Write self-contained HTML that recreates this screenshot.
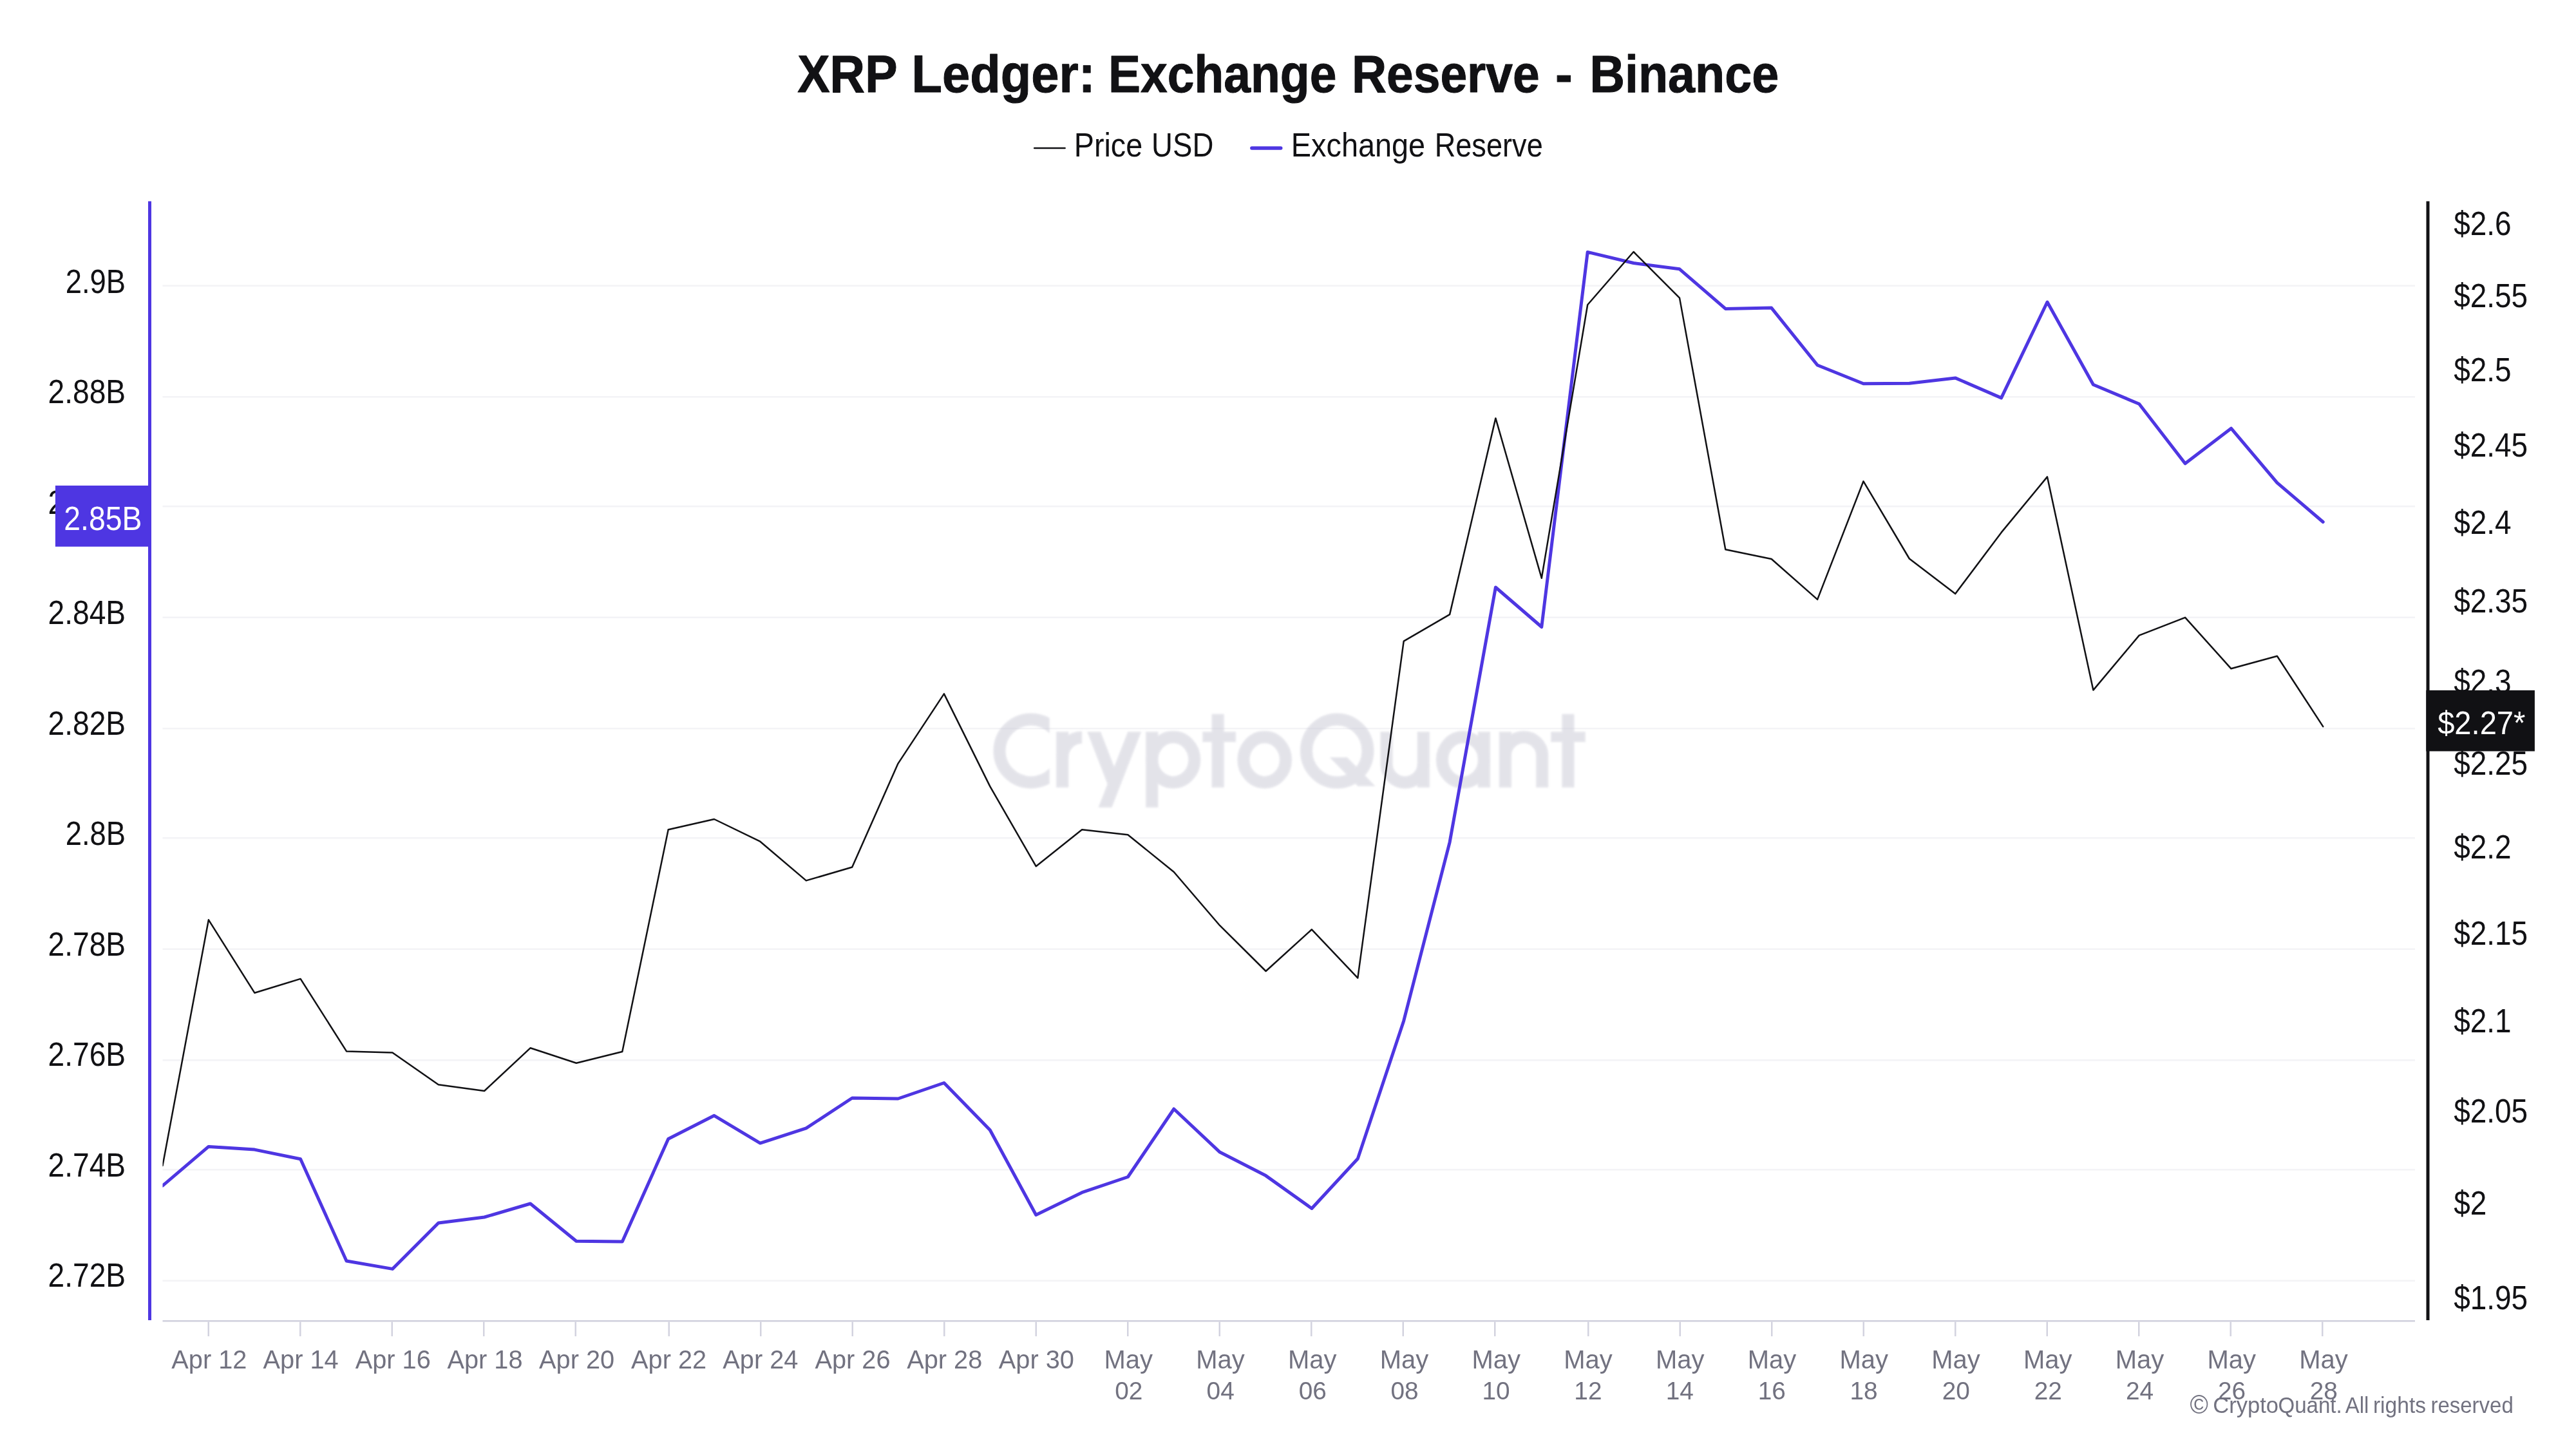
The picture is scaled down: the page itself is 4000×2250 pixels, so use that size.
<!DOCTYPE html><html><head><meta charset="utf-8"><title>XRP Ledger: Exchange Reserve - Binance</title>
<style>html,body{margin:0;padding:0;background:#fff}body{width:4000px;height:2250px;overflow:hidden}svg{display:block;font-family:"Liberation Sans",sans-serif}text{opacity:0.999}</style></head><body>
<svg width="4000" height="2250" viewBox="0 0 4000 2250">
<defs><clipPath id="plot"><rect x="252.5" y="300" width="3500" height="1760"/></clipPath><clipPath id="cclip"><rect x="1500" y="1090" width="129.7" height="150"/></clipPath><filter id="soft" x="-5%" y="-20%" width="110%" height="140%"><feGaussianBlur stdDeviation="1.5"/></filter></defs>
<rect width="4000" height="2250" fill="#ffffff"/>
<text transform="translate(1238.24,143.20) scale(0.9239,1)" font-size="81.75" font-weight="700" fill="#111114" stroke="#111114" stroke-width="1.0" stroke-linejoin="round">XRP</text>
<text transform="translate(1415.45,143.20) scale(0.9511,1)" font-size="81.75" font-weight="700" fill="#111114" stroke="#111114" stroke-width="1.0" stroke-linejoin="round">Ledger:</text>
<text transform="translate(1720.94,143.20) scale(0.9178,1)" font-size="81.75" font-weight="700" fill="#111114" stroke="#111114" stroke-width="1.0" stroke-linejoin="round">Exchange</text>
<text transform="translate(2098.94,143.20) scale(0.9167,1)" font-size="81.75" font-weight="700" fill="#111114" stroke="#111114" stroke-width="1.0" stroke-linejoin="round">Reserve</text>
<text transform="translate(2415.08,143.20) scale(0.9835,1)" font-size="81.75" font-weight="700" fill="#111114" stroke="#111114" stroke-width="1.0" stroke-linejoin="round">-</text>
<text transform="translate(2468.50,143.20) scale(0.9235,1)" font-size="81.75" font-weight="700" fill="#111114" stroke="#111114" stroke-width="1.0" stroke-linejoin="round">Binance</text>
<line x1="1606.2" y1="230" x2="1653.6" y2="230" stroke="#111114" stroke-width="2.6" stroke-linecap="round"/>
<text transform="translate(1667.74,243.10) scale(0.8950,1)" font-size="52.22" fill="#111114">Price</text>
<text transform="translate(1788.07,243.10) scale(0.8730,1)" font-size="52.22" fill="#111114">USD</text>
<line x1="1943.8" y1="230" x2="1988.8" y2="230" stroke="#4e36e2" stroke-width="5.4" stroke-linecap="round"/>
<text transform="translate(2004.84,243.10) scale(0.8972,1)" font-size="52.22" fill="#111114">Exchange</text>
<text transform="translate(2227.68,243.10) scale(0.8645,1)" font-size="52.22" fill="#111114">Reserve</text>
<rect x="252.5" y="442.50" width="3497.5" height="2.5" fill="#f3f3f6"/>
<rect x="252.5" y="615.00" width="3497.5" height="2.5" fill="#f3f3f6"/>
<rect x="252.5" y="785.00" width="3497.5" height="2.5" fill="#f3f3f6"/>
<rect x="252.5" y="957.50" width="3497.5" height="2.5" fill="#f3f3f6"/>
<rect x="252.5" y="1130.00" width="3497.5" height="2.5" fill="#f3f3f6"/>
<rect x="252.5" y="1300.00" width="3497.5" height="2.5" fill="#f3f3f6"/>
<rect x="252.5" y="1472.50" width="3497.5" height="2.5" fill="#f3f3f6"/>
<rect x="252.5" y="1645.00" width="3497.5" height="2.5" fill="#f3f3f6"/>
<rect x="252.5" y="1815.00" width="3497.5" height="2.5" fill="#f3f3f6"/>
<rect x="252.5" y="1987.50" width="3497.5" height="2.5" fill="#f3f3f6"/>
<g filter="url(#soft)" opacity="0.5"><g fill="none" stroke="#c9c9d5" stroke-width="19.0" stroke-linecap="butt"><g clip-path="url(#cclip)"><circle cx="1601" cy="1165.9" r="49"/></g><path d="M1649.7,1136.3 V1222.7"/><path d="M1649.7,1176.4 A30.4,31.4 0 0 1 1680.1,1145"/><path d="M1788.8,1136.3 V1253.7"/><ellipse cx="1821.8" cy="1179.75" rx="33" ry="35.15"/><path d="M1891.1,1108.7 V1222.7"/><ellipse cx="1963.7" cy="1179.75" rx="32.8" ry="35.15"/><ellipse cx="2076.2" cy="1165.9" rx="47.75" ry="49"/><path d="M2153,1136.3 V1186.25 A28.65,28.65 0 0 0 2210.3,1186.25"/><path d="M2210.3,1136.3 V1222.7"/><ellipse cx="2271.9" cy="1179.75" rx="32.5" ry="35.15"/><path d="M2304.4,1136.3 V1222.7"/><path d="M2337.4,1136.3 V1222.7"/><path d="M2337.4,1173.25 A28.65,28.65 0 0 1 2394.7,1173.25 V1222.7"/><path d="M2434.9,1108.7 V1222.7"/></g><g fill="#c9c9d5" stroke="none"><polygon points="1751.3,1136.3 1772.1,1136.3 1726.4,1253.7 1705.6,1253.7"/><polygon points="1688.2,1136.3 1709.0,1136.3 1740.5,1217.6 1719.7,1217.6"/><rect x="1867.4" y="1136.3" width="51.5" height="15.9"/><rect x="2408.3" y="1136.3" width="53.4" height="15.9"/><polygon points="2064.7,1176.1 2091.9,1176.1 2135.6,1220.7 2108.4,1220.7"/></g></g>
<rect x="252.5" y="2050" width="3497.5" height="2.5" fill="#d0d0dd"/>
<rect x="322.50" y="2052.5" width="2.5" height="22.5" fill="#d3d3df"/>
<text transform="translate(266.28,2125.00) scale(0.9976,1)" font-size="39.85" fill="#727280">Apr 12</text>
<rect x="465.00" y="2052.5" width="2.5" height="22.5" fill="#d3d3df"/>
<text transform="translate(408.59,2125.00) scale(0.9976,1)" font-size="39.85" fill="#727280">Apr 14</text>
<rect x="607.50" y="2052.5" width="2.5" height="22.5" fill="#d3d3df"/>
<text transform="translate(551.64,2125.00) scale(0.9976,1)" font-size="39.85" fill="#727280">Apr 16</text>
<rect x="750.00" y="2052.5" width="2.5" height="22.5" fill="#d3d3df"/>
<text transform="translate(694.39,2125.00) scale(0.9976,1)" font-size="39.85" fill="#727280">Apr 18</text>
<rect x="892.50" y="2052.5" width="2.5" height="22.5" fill="#d3d3df"/>
<text transform="translate(837.05,2125.00) scale(0.9976,1)" font-size="39.85" fill="#727280">Apr 20</text>
<rect x="1037.50" y="2052.5" width="2.5" height="22.5" fill="#d3d3df"/>
<text transform="translate(980.05,2125.00) scale(0.9976,1)" font-size="39.85" fill="#727280">Apr 22</text>
<rect x="1180.00" y="2052.5" width="2.5" height="22.5" fill="#d3d3df"/>
<text transform="translate(1122.36,2125.00) scale(0.9976,1)" font-size="39.85" fill="#727280">Apr 24</text>
<rect x="1322.50" y="2052.5" width="2.5" height="22.5" fill="#d3d3df"/>
<text transform="translate(1265.41,2125.00) scale(0.9976,1)" font-size="39.85" fill="#727280">Apr 26</text>
<rect x="1465.00" y="2052.5" width="2.5" height="22.5" fill="#d3d3df"/>
<text transform="translate(1408.17,2125.00) scale(0.9976,1)" font-size="39.85" fill="#727280">Apr 28</text>
<rect x="1607.50" y="2052.5" width="2.5" height="22.5" fill="#d3d3df"/>
<text transform="translate(1550.83,2125.00) scale(0.9976,1)" font-size="39.85" fill="#727280">Apr 30</text>
<rect x="1750.00" y="2052.5" width="2.5" height="22.5" fill="#d3d3df"/>
<text transform="translate(1714.53,2124.95) scale(0.9932,1)" font-size="40.22" fill="#727280">May</text>
<text transform="translate(1731.28,2172.70) scale(0.9882,1)" font-size="39.28" fill="#727280">02</text>
<rect x="1892.50" y="2052.5" width="2.5" height="22.5" fill="#d3d3df"/>
<text transform="translate(1857.29,2124.95) scale(0.9932,1)" font-size="40.22" fill="#727280">May</text>
<text transform="translate(1873.60,2172.70) scale(0.9882,1)" font-size="39.28" fill="#727280">04</text>
<rect x="2035.00" y="2052.5" width="2.5" height="22.5" fill="#d3d3df"/>
<text transform="translate(2000.04,2124.95) scale(0.9932,1)" font-size="40.22" fill="#727280">May</text>
<text transform="translate(2016.64,2172.70) scale(0.9882,1)" font-size="39.28" fill="#727280">06</text>
<rect x="2177.50" y="2052.5" width="2.5" height="22.5" fill="#d3d3df"/>
<text transform="translate(2142.80,2124.95) scale(0.9932,1)" font-size="40.22" fill="#727280">May</text>
<text transform="translate(2159.40,2172.70) scale(0.9882,1)" font-size="39.28" fill="#727280">08</text>
<rect x="2320.00" y="2052.5" width="2.5" height="22.5" fill="#d3d3df"/>
<text transform="translate(2285.55,2124.95) scale(0.9932,1)" font-size="40.22" fill="#727280">May</text>
<text transform="translate(2301.38,2172.70) scale(0.9882,1)" font-size="39.28" fill="#727280">10</text>
<rect x="2465.00" y="2052.5" width="2.5" height="22.5" fill="#d3d3df"/>
<text transform="translate(2428.31,2124.95) scale(0.9932,1)" font-size="40.22" fill="#727280">May</text>
<text transform="translate(2444.37,2172.70) scale(0.9882,1)" font-size="39.28" fill="#727280">12</text>
<rect x="2607.50" y="2052.5" width="2.5" height="22.5" fill="#d3d3df"/>
<text transform="translate(2571.06,2124.95) scale(0.9932,1)" font-size="40.22" fill="#727280">May</text>
<text transform="translate(2586.69,2172.70) scale(0.9882,1)" font-size="39.28" fill="#727280">14</text>
<rect x="2750.00" y="2052.5" width="2.5" height="22.5" fill="#d3d3df"/>
<text transform="translate(2713.82,2124.95) scale(0.9932,1)" font-size="40.22" fill="#727280">May</text>
<text transform="translate(2729.74,2172.70) scale(0.9882,1)" font-size="39.28" fill="#727280">16</text>
<rect x="2892.50" y="2052.5" width="2.5" height="22.5" fill="#d3d3df"/>
<text transform="translate(2856.57,2124.95) scale(0.9932,1)" font-size="40.22" fill="#727280">May</text>
<text transform="translate(2872.49,2172.70) scale(0.9882,1)" font-size="39.28" fill="#727280">18</text>
<rect x="3035.00" y="2052.5" width="2.5" height="22.5" fill="#d3d3df"/>
<text transform="translate(2999.33,2124.95) scale(0.9932,1)" font-size="40.22" fill="#727280">May</text>
<text transform="translate(3015.64,2172.70) scale(0.9882,1)" font-size="39.28" fill="#727280">20</text>
<rect x="3177.50" y="2052.5" width="2.5" height="22.5" fill="#d3d3df"/>
<text transform="translate(3142.08,2124.95) scale(0.9932,1)" font-size="40.22" fill="#727280">May</text>
<text transform="translate(3158.63,2172.70) scale(0.9882,1)" font-size="39.28" fill="#727280">22</text>
<rect x="3320.00" y="2052.5" width="2.5" height="22.5" fill="#d3d3df"/>
<text transform="translate(3284.84,2124.95) scale(0.9932,1)" font-size="40.22" fill="#727280">May</text>
<text transform="translate(3300.95,2172.70) scale(0.9882,1)" font-size="39.28" fill="#727280">24</text>
<rect x="3462.50" y="2052.5" width="2.5" height="22.5" fill="#d3d3df"/>
<text transform="translate(3427.59,2124.95) scale(0.9932,1)" font-size="40.22" fill="#727280">May</text>
<text transform="translate(3444.00,2172.70) scale(0.9882,1)" font-size="39.28" fill="#727280">26</text>
<rect x="3605.00" y="2052.5" width="2.5" height="22.5" fill="#d3d3df"/>
<text transform="translate(3570.35,2124.95) scale(0.9932,1)" font-size="40.22" fill="#727280">May</text>
<text transform="translate(3586.75,2172.70) scale(0.9882,1)" font-size="39.28" fill="#727280">28</text>
<text transform="translate(101.73,455.00) scale(0.8723,1)" font-size="52.07" fill="#111114">2.9B</text>
<text transform="translate(74.49,626.47) scale(0.8866,1)" font-size="52.07" fill="#111114">2.88B</text>
<text transform="translate(74.49,797.94) scale(0.8866,1)" font-size="52.07" fill="#111114">2.86B</text>
<text transform="translate(74.49,969.41) scale(0.8866,1)" font-size="52.07" fill="#111114">2.84B</text>
<text transform="translate(74.49,1140.88) scale(0.8866,1)" font-size="52.07" fill="#111114">2.82B</text>
<text transform="translate(101.73,1312.35) scale(0.8723,1)" font-size="52.07" fill="#111114">2.8B</text>
<text transform="translate(74.49,1483.82) scale(0.8866,1)" font-size="52.07" fill="#111114">2.78B</text>
<text transform="translate(74.49,1655.29) scale(0.8866,1)" font-size="52.07" fill="#111114">2.76B</text>
<text transform="translate(74.49,1826.76) scale(0.8866,1)" font-size="52.07" fill="#111114">2.74B</text>
<text transform="translate(74.49,1998.23) scale(0.8866,1)" font-size="52.07" fill="#111114">2.72B</text>
<text transform="translate(3810.14,364.90) scale(0.8978,1)" font-size="51.18" fill="#111114">$2.6</text>
<text transform="translate(3810.14,477.49) scale(0.8978,1)" font-size="51.18" fill="#111114">$2.55</text>
<text transform="translate(3810.14,592.30) scale(0.8978,1)" font-size="51.18" fill="#111114">$2.5</text>
<text transform="translate(3810.14,709.44) scale(0.8978,1)" font-size="51.18" fill="#111114">$2.45</text>
<text transform="translate(3810.14,828.99) scale(0.8978,1)" font-size="51.18" fill="#111114">$2.4</text>
<text transform="translate(3810.14,951.06) scale(0.8978,1)" font-size="51.18" fill="#111114">$2.35</text>
<text transform="translate(3810.14,1075.75) scale(0.8978,1)" font-size="51.18" fill="#111114">$2.3</text>
<text transform="translate(3810.14,1203.18) scale(0.8978,1)" font-size="51.18" fill="#111114">$2.25</text>
<text transform="translate(3810.14,1333.48) scale(0.8978,1)" font-size="51.18" fill="#111114">$2.2</text>
<text transform="translate(3810.14,1466.77) scale(0.8978,1)" font-size="51.18" fill="#111114">$2.15</text>
<text transform="translate(3810.14,1603.20) scale(0.8978,1)" font-size="51.18" fill="#111114">$2.1</text>
<text transform="translate(3810.14,1742.92) scale(0.8978,1)" font-size="51.18" fill="#111114">$2.05</text>
<text transform="translate(3810.14,1886.09) scale(0.8978,1)" font-size="51.18" fill="#111114">$2</text>
<text transform="translate(3810.14,2032.88) scale(0.8978,1)" font-size="51.18" fill="#111114">$1.95</text>
<g clip-path="url(#plot)" fill="none" stroke-linejoin="round">
<path d="M252.5,1841.2 L323.9,1780.4 L395.3,1785.1 L466.6,1799.7 L538.0,1958.0 L609.4,1970.4 L680.8,1898.9 L752.1,1890.0 L823.5,1869.0 L894.9,1927.2 L966.3,1928.0 L1037.7,1768.5 L1109.0,1732.3 L1180.4,1775.1 L1251.8,1751.9 L1323.2,1705.0 L1394.5,1706.0 L1465.9,1681.5 L1537.3,1754.7 L1608.7,1886.5 L1680.1,1851.7 L1751.4,1827.5 L1822.8,1722.0 L1894.2,1789.1 L1965.6,1825.6 L2036.9,1876.5 L2108.3,1799.3 L2179.7,1585.2 L2251.1,1307.8 L2322.4,912.0 L2393.8,973.5 L2465.2,391.4 L2536.6,408.5 L2608.0,417.8 L2679.3,479.4 L2750.7,478.1 L2822.1,567.0 L2893.5,595.7 L2964.8,595.2 L3036.2,586.9 L3107.6,617.9 L3179.0,469.0 L3250.4,597.2 L3321.7,627.3 L3393.1,719.8 L3464.5,665.2 L3535.9,749.6 L3607.2,810.5" stroke="#4e36e2" stroke-width="5" stroke-linecap="round"/>
<path d="M252.5,1810.0 L323.9,1428.3 L395.3,1541.7 L466.6,1519.9 L538.0,1632.4 L609.4,1634.5 L680.8,1684.2 L752.1,1694.0 L823.5,1627.3 L894.9,1650.8 L966.3,1633.0 L1037.7,1288.3 L1109.0,1272.0 L1180.4,1306.7 L1251.8,1367.4 L1323.2,1346.5 L1394.5,1185.6 L1465.9,1077.4 L1537.3,1221.1 L1608.7,1345.2 L1680.1,1288.2 L1751.4,1296.2 L1822.8,1354.0 L1894.2,1437.2 L1965.6,1508.0 L2036.9,1443.3 L2108.3,1518.6 L2179.7,995.7 L2251.1,954.1 L2322.4,649.4 L2393.8,897.7 L2465.2,473.3 L2536.6,391.0 L2608.0,462.6 L2679.3,853.2 L2750.7,868.0 L2822.1,930.9 L2893.5,747.3 L2964.8,867.5 L3036.2,922.1 L3107.6,826.9 L3179.0,740.4 L3250.4,1071.6 L3321.7,986.6 L3393.1,958.8 L3464.5,1038.3 L3535.9,1018.8 L3607.2,1128.1" stroke="#111114" stroke-width="2.5" stroke-linecap="round"/>
</g>
<rect x="230" y="312.5" width="5" height="1737.5" fill="#4e36e2"/>
<rect x="3767.5" y="312.5" width="5" height="1737.5" fill="#111114"/>
<rect x="85.9" y="754" width="146" height="94.8" fill="#4e36e2"/>
<text transform="translate(99.28,823.40) scale(0.9059,1)" font-size="51.18" fill="#ffffff">2.85B</text>
<rect x="3767.3" y="1071.9" width="168.6" height="94.6" fill="#111114"/>
<text transform="translate(3785.13,1140.20) scale(0.9291,1)" font-size="50.75" fill="#ffffff">$2.27*</text>
<text transform="translate(3400.52,2194.90) scale(0.9510,1)" font-size="40.57" fill="#727280">©</text>
<text transform="translate(3436.27,2193.50) scale(0.9913,1)" font-size="34.84" fill="#727280">Crypto</text>
<text transform="translate(3537.43,2193.50) scale(0.9498,1)" font-size="34.84" fill="#727280">Quant.</text>
<text transform="translate(3641.82,2193.50) scale(0.9444,1)" font-size="34.84" fill="#727280">All</text>
<text transform="translate(3684.92,2193.50) scale(0.9645,1)" font-size="34.84" fill="#727280">rights</text>
<text transform="translate(3774.46,2193.50) scale(0.9467,1)" font-size="34.84" fill="#727280">reserved</text>
</svg></body></html>
